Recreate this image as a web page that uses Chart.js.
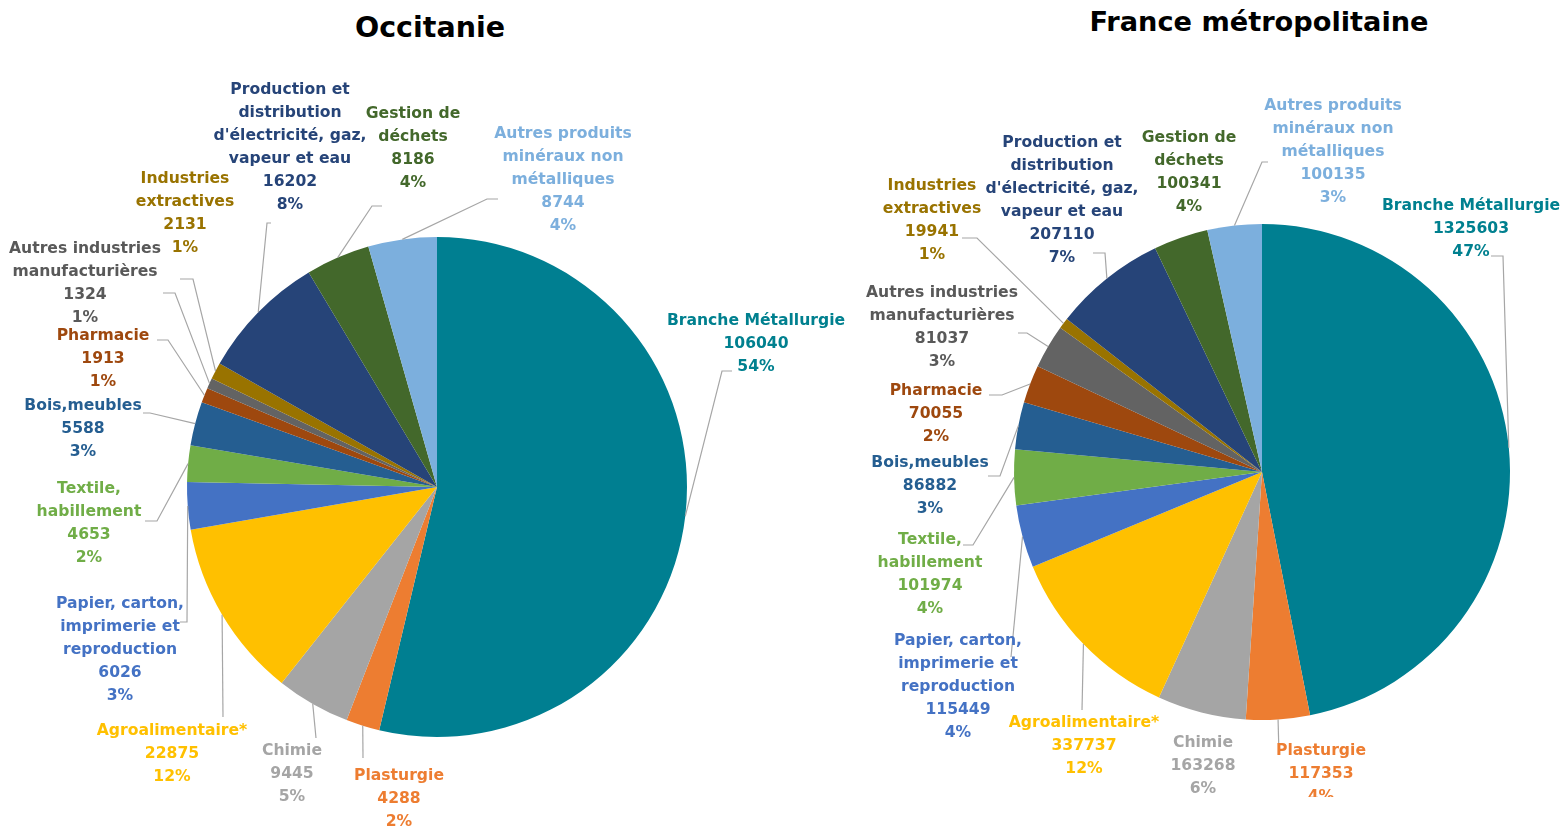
<!DOCTYPE html>
<html>
<head>
<meta charset="utf-8">
<script src="https://cdn.jsdelivr.net/npm/chart.js@4/dist/chart.umd.min.js"></script>
<style>
  body { margin: 0; background: #fff; width: 1562px; height: 832px; overflow: hidden; position: relative; }
  canvas { position: absolute; top: 0; }
  .title { position: absolute; font-family: "DejaVu Sans", sans-serif; font-weight: bold; font-size: 28.5px; color: #000; transform: translateX(-50%); white-space: nowrap; }
</style>
</head>
<body>
<div class="title" style="left:430px; top:11px;">Occitanie</div>
<div class="title" style="left:1259px; top:6px; font-size:27.2px;">France métropolitaine</div>
<canvas id="occitanie" width="860" height="832" style="left:0"></canvas>
<canvas id="france" width="702" height="797" style="left:860px"></canvas>
<script>
console.log("pies loaded");

const categories = [
  "Branche Métallurgie",
  "Plasturgie",
  "Chimie",
  "Agroalimentaire*",
  "Papier, carton,\nimprimerie et\nreproduction",
  "Textile,\nhabillement",
  "Bois,meubles",
  "Pharmacie",
  "Autres industries\nmanufacturières",
  "Industries\nextractives",
  "Production et\ndistribution\nd'électricité, gaz,\nvapeur et eau",
  "Gestion de\ndéchets",
  "Autres produits\nminéraux non\nmétalliques",
];

const occitanieValues = [106040, 4288, 9445, 22875, 6026, 4653, 5588, 1913, 1324, 2131, 16202, 8186, 8744];
const occitaniePct = ["54%", "2%", "5%", "12%", "3%", "2%", "3%", "1%", "1%", "1%", "8%", "4%", "4%"];

const franceValues = [1325603, 117353, 163268, 337737, 115449, 101974, 86882, 70055, 81037, 19941, 207110, 100341, 100135];
const francePct = ["47%", "4%", "6%", "12%", "4%", "4%", "3%", "2%", "3%", "1%", "7%", "4%", "3%"];

const sliceColors = [
  "#007F91", "#ED7D31", "#A5A5A5", "#FFC000", "#4472C4", "#70AD47", "#255E91",
  "#9E480E", "#636363", "#997300", "#264478", "#43682B", "#7CAFDD",
];
const textColors = [
  "#00808F", "#ED7D31", "#A5A5A5", "#FFC000", "#4472C4", "#70AD47", "#255E91",
  "#9E480E", "#595959", "#997300", "#264478", "#43682B", "#7CAFDD",
];

// label block: [center x, first line y] (page coords)
const occitanieLabelPos = [
  [756, 321], [399, 776], [292, 751], [172, 731], [120, 604], [89, 489], [83, 406],
  [103, 336], [85, 249], [185, 179], [290, 90], [413, 114], [563, 134],
];
// leader: [elbow x, elbow y, stub end x] or null
const occitanieLeaders = [
  [722, 371, 732], [363, 758, 363], [316, 738, 316], [223, 717, 223], [187, 622, 180],
  [157, 521, 145], [150, 413, 143], [168, 340, 157], [175, 293, 163], [193, 279, 180],
  [267, 223, 271], [372, 206, 382], [487, 199, 498],
];

const franceLabelPos = [
  [1471, 206], [1321, 751], [1203, 743], [1084, 723], [958, 641], [930, 540], [930, 463],
  [936, 391], [942, 293], [932, 186], [1062, 143], [1189, 138], [1333, 106],
];
const franceLeaders = [
  [1503, 256, 1491], [1279, 755, 1279], null, [1082, 710, 1082], [1011, 657, 1011],
  [973, 545, 963], [1000, 476, 988], [1002, 395, 989], [1027, 333, 1018], [977, 238, 962],
  [1105, 253, 1093], null, [1262, 162, 1268],
];

function makeLabelPlugin(values, pcts, labelPos, leaders, offsetX) {
  return {
    id: "sliceLabels",
    afterDatasetsDraw(chart) {
      const ctx = chart.ctx;
      const meta = chart.getDatasetMeta(0);
      ctx.save();
      meta.data.forEach((arc, i) => {
        const p = arc.getProps(["x", "y", "startAngle", "endAngle", "outerRadius"], true);
        const mid = (p.startAngle + p.endAngle) / 2;
        const ax = p.x + Math.cos(mid) * p.outerRadius;
        const ay = p.y + Math.sin(mid) * p.outerRadius;
        const lead = leaders[i];
        if (lead) {
          ctx.strokeStyle = "#A6A6A6";
          ctx.lineWidth = 1.2;
          ctx.beginPath();
          ctx.moveTo(ax, ay);
          ctx.lineTo(lead[0] - offsetX, lead[1]);
          ctx.lineTo(lead[2] - offsetX, lead[1]);
          ctx.stroke();
        }
        const lines = categories[i].split("\n").concat([String(values[i]), pcts[i]]);
        ctx.fillStyle = textColors[i];
        ctx.font = "bold 15.6px 'DejaVu Sans', sans-serif";
        ctx.textAlign = "center";
        ctx.textBaseline = "middle";
        lines.forEach((t, k) => {
          ctx.fillText(t, labelPos[i][0] - offsetX, labelPos[i][1] + k * 23);
        });
      });
      ctx.restore();
    },
  };
}

function drawPie(id, values, pcts, labelPos, leaders, offsetX, padding) {
  new Chart(document.getElementById(id).getContext("2d"), {
    type: "pie",
    data: {
      labels: categories.map((c) => c.replace(/\n/g, " ")),
      datasets: [
        {
          data: values,
          backgroundColor: sliceColors,
          borderWidth: 0,
        },
      ],
    },
    options: {
      responsive: false,
      animation: false,
      layout: { padding: padding },
      plugins: {
        legend: { display: false },
        tooltip: { enabled: false },
      },
    },
    plugins: [makeLabelPlugin(values, pcts, labelPos, leaders, offsetX)],
  });
}

drawPie("occitanie", occitanieValues, occitaniePct, occitanieLabelPos, occitanieLeaders, 0,
  { left: 187, right: 173, top: 237, bottom: 95 });
drawPie("france", franceValues, francePct, franceLabelPos, franceLeaders, 860,
  { left: 154, right: 52, top: 224, bottom: 77 });
</script>
</body>
</html>
